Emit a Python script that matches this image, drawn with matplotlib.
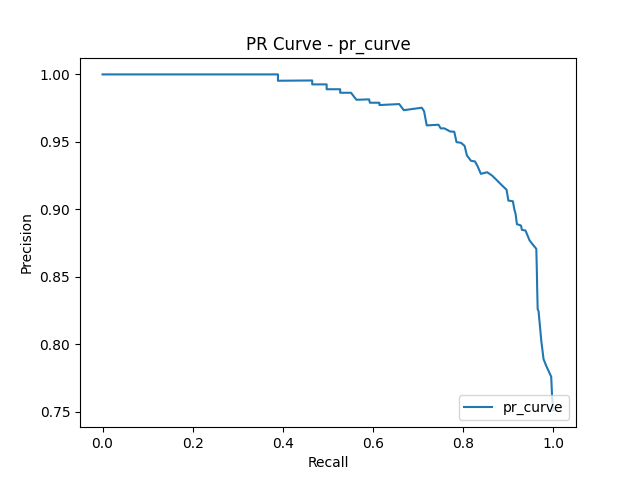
import matplotlib
matplotlib.use("Agg")
import matplotlib.pyplot as plt

recall = [0.0, 0.389, 0.389, 0.465, 0.465, 0.497, 0.497, 0.527, 0.527, 0.551, 0.563,
          0.591, 0.593, 0.614, 0.614, 0.658, 0.668, 0.708, 0.713, 0.719, 0.745, 0.750,
          0.758, 0.771, 0.780, 0.785, 0.795, 0.803, 0.808, 0.817, 0.826, 0.832, 0.839,
          0.853, 0.864, 0.875, 0.886, 0.896, 0.900, 0.910, 0.913, 0.916, 0.919, 0.928,
          0.930, 0.938, 0.947, 0.953, 0.962, 0.963, 0.964, 0.965, 0.967, 0.973, 0.978,
          0.984, 0.995, 0.997, 1.0]
precision = [1.0, 1.0, 0.9953, 0.9955, 0.9926, 0.9926, 0.989, 0.989, 0.9864, 0.9864, 0.9812,
             0.9815, 0.979, 0.979, 0.9773, 0.978, 0.9735, 0.9753, 0.9728, 0.9622, 0.9627, 0.960,
             0.960, 0.9577, 0.9575, 0.9498, 0.9493, 0.947, 0.940, 0.936, 0.9355, 0.9318, 0.9263,
             0.9275, 0.925, 0.9214, 0.9177, 0.9145, 0.9065, 0.906, 0.9004, 0.8966, 0.889, 0.888,
             0.8848, 0.8843, 0.877, 0.8744, 0.8707, 0.857, 0.840, 0.826, 0.8245, 0.8027, 0.789,
             0.784, 0.776, 0.761, 0.751]

fig, ax = plt.subplots(figsize=(6.4, 4.8), dpi=100)
ax.plot(recall, precision, label="pr_curve")
ax.set_xlabel("Recall")
ax.set_ylabel("Precision")
ax.set_title("PR Curve - pr_curve")
ax.legend(loc="lower right")
fig.savefig("out.png")
